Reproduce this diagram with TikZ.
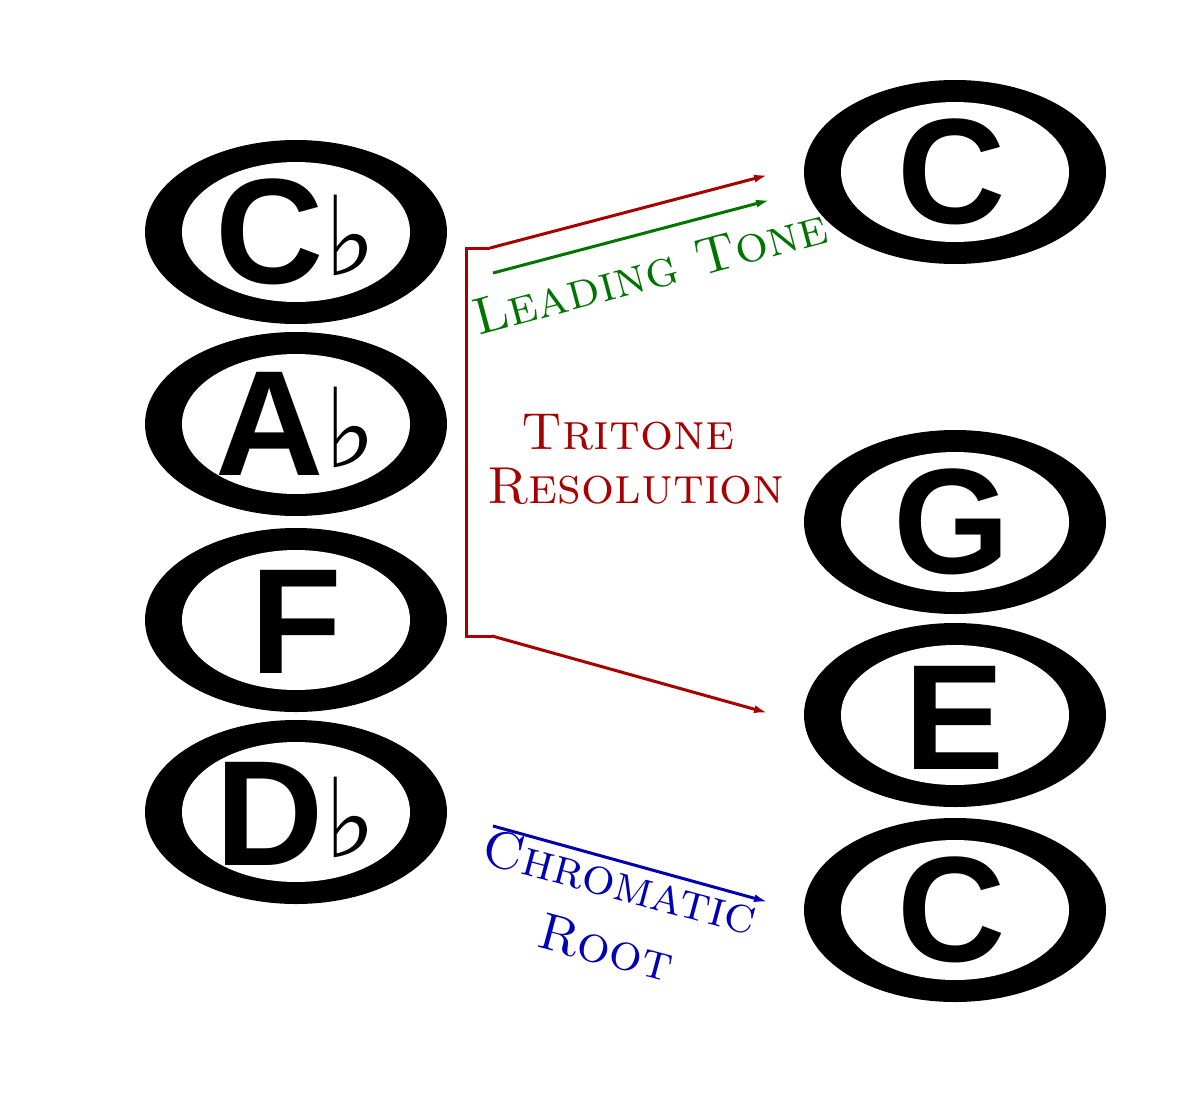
\documentclass[tikz,border=0pt]{standalone}
\usetikzlibrary{arrows.meta}
\usepackage{fontspec}
\newfontfamily\notefont{Liberation Sans}
\newfontfamily\symfont{DejaVu Sans}
\begin{document}
\begin{tikzpicture}[x=1pt,y=-1pt,
  head/.pic={
    \fill[black] (0,0) ellipse [x radius=151, y radius=92];
    \fill[white] (0,0) ellipse [x radius=114, y radius=70];
  },
  lbl/.style={font=\notefont\bfseries\fontsize{150}{150}\selectfont, inner sep=0},
  conn/.style={line width=3, -{Latex[length=14,width=8]}},
  captext/.style={font=\fontsize{52}{52}\selectfont\scshape, inner sep=0}]
\useasboundingbox (0,0) rectangle (1200,1103);
\pic at (296,232) {head}; \node[lbl] (cb) at (296,232) {C\raisebox{8pt}{\symfont\fontsize{110}{110}\selectfont ♭}};
\pic at (296,424) {head}; \node[lbl] (ab) at (296,424) {A\raisebox{8pt}{\symfont\fontsize{110}{110}\selectfont ♭}};
\pic at (296,620) {head}; \node[lbl] (f) at (296,622) {F};
\pic at (296,812) {head}; \node[lbl] (db) at (296,814) {D\raisebox{8pt}{\symfont\fontsize{110}{110}\selectfont ♭}};
\pic at (955,172) {head}; \node[lbl] (c1) at (952,172) {C};
\pic at (955,522) {head}; \node[lbl] (g) at (952,522) {G};
\pic at (955,715) {head}; \node[lbl] (e) at (955,718) {E};
\pic at (955,910) {head}; \node[lbl] (c2) at (952,910) {C};
\coordinate (b1) at (466,248); \coordinate (b2) at (490,248);
\coordinate (b3) at (466,636); \coordinate (b4) at (492,636);
\coordinate (t1) at (768,175); \coordinate (t2) at (768,713);
\draw[line width=3,color=red!65!black] (b2) -- (b1) -- (b3) -- (b4);
\draw[conn,color=red!65!black] (b2) -- (t1);
\draw[conn,color=red!65!black] (b4) -- (t2);
\coordinate (g1) at (493,273); \coordinate (g2) at (770,200);
\draw[conn,color=green!45!black] (g1) -- (g2);
\coordinate (u1) at (493,826); \coordinate (u2) at (768,902);
\draw[conn,color=blue!70!black] (u1) -- (u2);
\node[captext,text=green!45!black,rotate=15] (lt) at (650,272) {Leading Tone};
\node[captext,text=red!65!black] (tr) at (628,432) {Tritone};
\node[captext,text=red!65!black] (rs) at (636,486) {Resolution};
\node[captext,text=blue!70!black,rotate=-15] (ch) at (620,882) {Chromatic};
\node[captext,text=blue!70!black,rotate=-15] (rt) at (606,948) {Root};
\end{tikzpicture}
\end{document}
